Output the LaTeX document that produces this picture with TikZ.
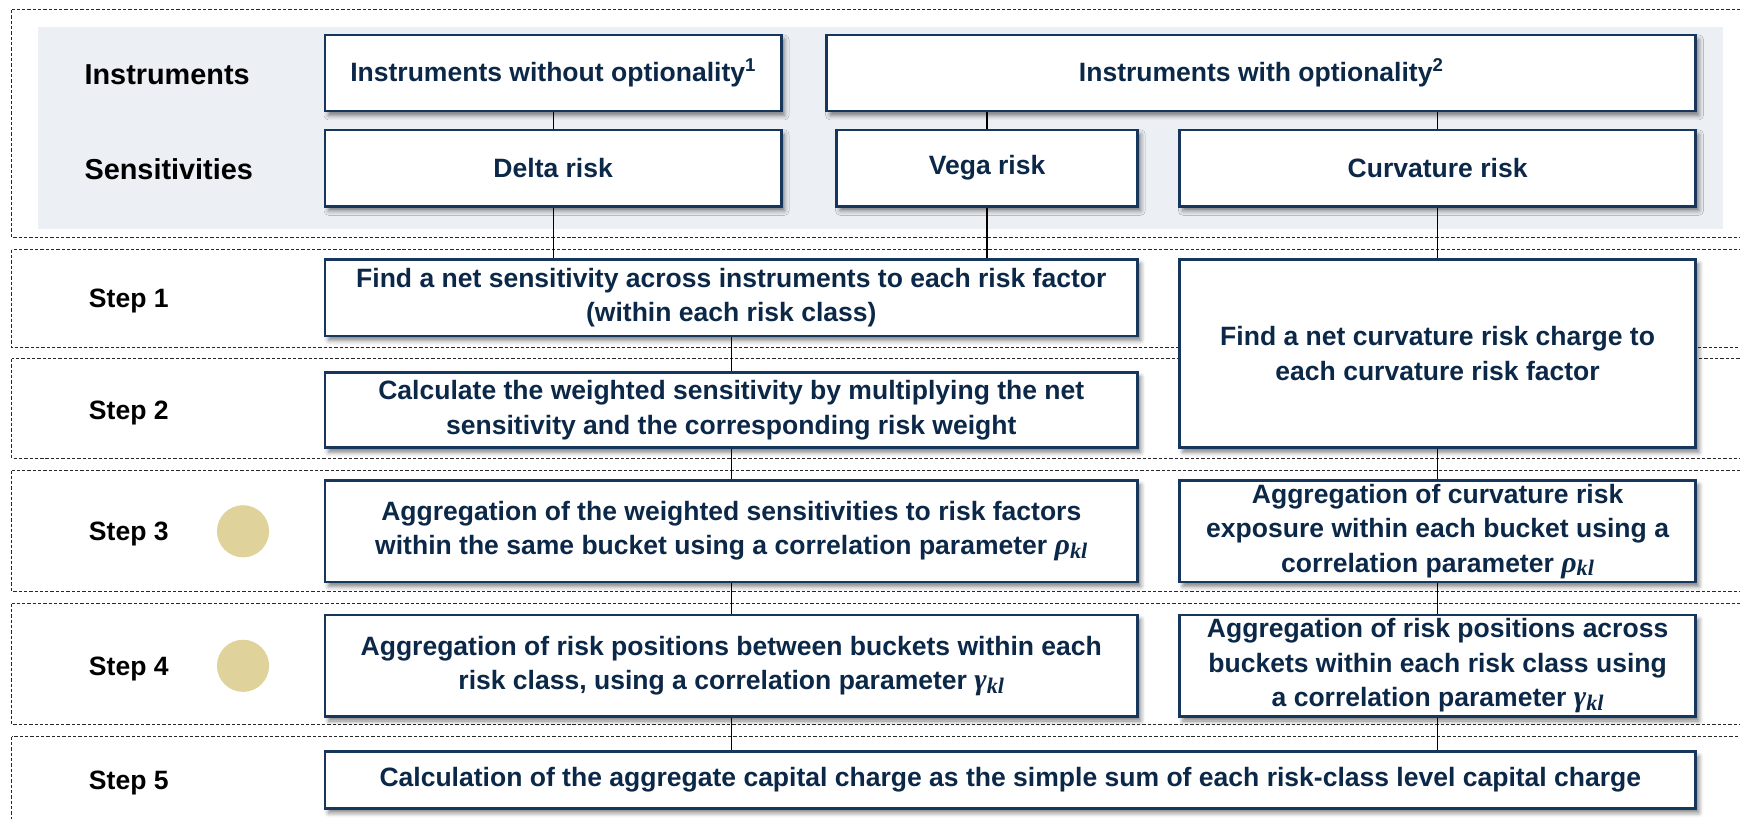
\documentclass[tikz,border=0pt]{standalone}
\usepackage{fontspec}
\setmainfont{Liberation Sans}
\newfontfamily\greekfont{Liberation Serif}
\usetikzlibrary{shadows.blur}

\definecolor{boxnavy}{RGB}{22,54,92}
\definecolor{textnavy}{RGB}{12,40,72}
\definecolor{panelgrey}{RGB}{236,239,244}
\definecolor{markertan}{RGB}{223,211,155}
\definecolor{rowline}{RGB}{40,40,40}

% bold italic correlation symbols with a kl subscript
\newcommand{\corrsym}[1]{{\greekfont\bfseries\itshape\fontsize{27}{31}\selectfont #1\raisebox{-0.28ex}{\fontsize{20}{22}\selectfont kl}}}

\tikzset{
  rowframe/.style={draw=rowline, line width=0.9pt, dash pattern=on 3pt off 1.8pt},
  flowbox/.style={draw=boxnavy, line width=2.4pt, fill=white, text=textnavy,
    align=center, inner sep=0pt,
    font=\fontsize{23.9}{31}\selectfont\bfseries,
    blur shadow={shadow xshift=3pt, shadow yshift=-4pt, shadow blur radius=4pt, shadow opacity=50}},
  rowlabel/.style={anchor=west, inner sep=0pt, text=black,
    text height=17.1pt, text depth=0pt,
    font=\fontsize{23.9}{31}\selectfont\bfseries},
  headlabel/.style={rowlabel, text height=18.6pt,
    font=\fontsize{26}{31}\selectfont\bfseries},
  link/.style={draw=black, line width=1.2pt},
  stepdot/.style={circle, fill=markertan, minimum size=47pt, inner sep=0pt},
}

\begin{document}
\begin{tikzpicture}[x=1pt,y=-1pt]
\useasboundingbox (0,0) rectangle (1568,738);
\begin{scope}
\clip (0,0) rectangle (1568,738);

% dashed row frames
\draw[rowframe] (10.5,9) rectangle (1590,214);
\draw[rowframe] (10.5,225) rectangle (1590,313.5);
\draw[rowframe] (10.5,323.5) rectangle (1590,413);
\draw[rowframe] (10.5,424) rectangle (1590,533);
\draw[rowframe] (10.5,544) rectangle (1590,653);
\draw[rowframe] (10.5,664) rectangle (1590,760);

% grey panel behind instruments and sensitivities
\fill[panelgrey] (34.5,24) rectangle (1553,206);

% row labels
\node[headlabel] (linstr) at (76,66.5) {Instruments};
\node[headlabel] (lsens) at (76,152.5) {Sensitivities};
\node[rowlabel] (lone) at (80,268.2) {Step 1};
\node[rowlabel] (ltwo) at (80,369.5) {Step 2};
\node[rowlabel] (lthree) at (80,478.75) {Step 3};
\node[rowlabel] (lfour) at (80,600) {Step 4};
\node[rowlabel] (lfive) at (80,703) {Step 5};

% markers
\node[stepdot] (mthree) at (219,478.75) {};
\node[stepdot] (mfour) at (219,600) {};

% instruments
\node[flowbox, minimum width=411pt, minimum height=68.5pt] (nopt) at (498.5,65.75)
  {Instruments without optionality\textsuperscript{1}};
\node[flowbox, minimum width=783pt, minimum height=68.5pt] (wopt) at (1136.5,65.75)
  {Instruments with optionality\textsuperscript{2}};

% sensitivities
\node[flowbox, minimum width=411pt, minimum height=69pt] (delta) at (498.5,151.5) {Delta risk};
\node[flowbox, minimum width=271pt, minimum height=69pt] (vega) at (889.5,151.5) {Vega risk};
\node[flowbox, minimum width=465pt, minimum height=69pt] (curv) at (1295.5,151.5) {Curvature risk};

% steps
\node[flowbox, minimum width=732pt, minimum height=69pt] (sone) at (659,268.2)
  {Find a net sensitivity across instruments to each risk factor\\(within each risk class)};
\node[flowbox, minimum width=465pt, minimum height=169.8pt] (cnet) at (1295.5,318.6)
  {Find a net curvature risk charge to\\each curvature risk factor};
\node[flowbox, minimum width=732pt, minimum height=68pt] (stwo) at (659,369.5)
  {Calculate the weighted sensitivity by multiplying the net\\sensitivity and the corresponding risk weight};
\node[flowbox, minimum width=732pt, minimum height=91.5pt] (sthree) at (659,478.75)
  {Aggregation of the weighted sensitivities to risk factors\\within the same bucket using a correlation parameter \corrsym{ρ}};
\node[flowbox, minimum width=465pt, minimum height=91.5pt] (cthree) at (1295.5,478.75)
  {Aggregation of curvature risk\\exposure within each bucket using a\\correlation parameter \corrsym{ρ}};
\node[flowbox, minimum width=732pt, minimum height=91.6pt] (sfour) at (659,600)
  {Aggregation of risk positions between buckets within each\\risk class, using a correlation parameter \corrsym{γ}};
\node[flowbox, minimum width=465pt, minimum height=91.6pt] (cfour) at (1295.5,600)
  {Aggregation of risk positions across\\buckets within each risk class using\\a correlation parameter \corrsym{γ}};
\node[flowbox, minimum width=1235pt, minimum height=51pt] (sfive) at (910.5,703)
  {Calculation of the aggregate capital charge as the simple sum of each risk-class level capital charge};

% connectors
\draw[link] (nopt) -- (delta);
\draw[link] (wopt.south -| vega.north) -- (vega.north);
\draw[link] (wopt.south -| curv.north) -- (curv.north);
\draw[link] (delta.south) -- (delta.south |- sone.north);
\draw[link] (vega.south) -- (vega.south |- sone.north);
\draw[link] (curv) -- (cnet);
\draw[link] (sone) -- (stwo);
\draw[link] (stwo) -- (sthree);
\draw[link] (sthree) -- (sfour);
\draw[link] (sfour.south) -- (sfour.south |- sfive.north);
\draw[link] (cnet) -- (cthree);
\draw[link] (cthree) -- (cfour);
\draw[link] (cfour.south) -- (cfour.south |- sfive.north);
\end{scope}
\end{tikzpicture}
\end{document}
